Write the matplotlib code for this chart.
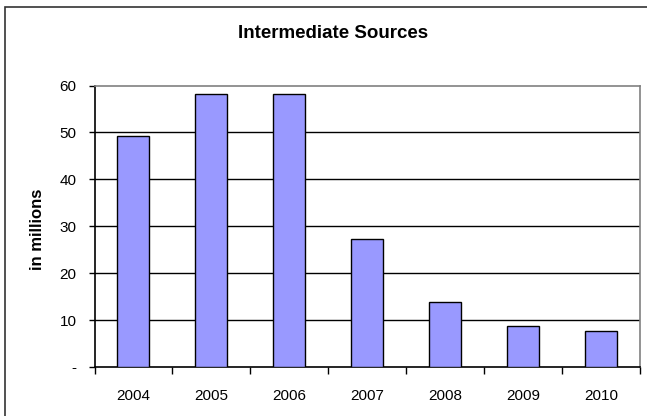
import matplotlib.pyplot as plt
import matplotlib.patches as mpatches
import numpy as np

plt.rcParams['font.family'] = ['Liberation Sans', 'DejaVu Sans']

years = ['2004', '2005', '2006', '2007', '2008', '2009', '2010']
values = [49.3, 58.2, 58.2, 27.3, 13.8, 8.8, 7.6]
yticks = [0, 10, 20, 30, 40, 50, 60]
ytick_labels = ['-', '10', '20', '30', '40', '50', '60']

fig = plt.figure(figsize=(6.47, 4.16), dpi=100)

# outer chart border (only left and top visible in the crop)
fig.patches.append(mpatches.Rectangle((5 / 647, -0.1), 1.2, 1 - 7 / 416 + 0.1,
                                      transform=fig.transFigure, fill=False,
                                      edgecolor='#333333', linewidth=1.2))

ax = fig.add_axes([94.5 / 647, 1 - 367 / 416, (640 - 94.5) / 647, (367 - 85.5) / 416])

x = np.arange(len(years))
ax.bar(x, values, width=0.41, color='#9999FF', edgecolor='black', linewidth=1.0, zorder=3)

ax.set_xlim(-0.5, len(years) - 0.5)
ax.set_ylim(0, 60)

# gridlines
for v in yticks[1:-1]:
    ax.axhline(v, color='black', linewidth=1.0, zorder=1)

ax.set_yticks(yticks)
ax.set_yticklabels(ytick_labels, fontsize=11)
ax.set_xticks(x)
ax.set_xticklabels(years, fontsize=11)
ax.tick_params(axis='x', length=0, pad=16)
ax.set_xticks(np.arange(len(years) + 1) - 0.5, minor=True)
ax.tick_params(axis='x', which='minor', length=5, width=1, color='black', direction='out')
ax.tick_params(axis='y', length=4, width=1, direction='out', pad=9)

ax.spines['left'].set_color('black')
ax.spines['bottom'].set_color('black')
ax.spines['top'].set_color('#808080')
ax.spines['right'].set_color('#808080')
for s in ax.spines.values():
    s.set_linewidth(1.2)

ax.set_ylabel('in millions', fontsize=12, fontweight='bold')
ax.yaxis.set_label_coords(-50 / 545.5, 0.49)

fig.text(333 / 647, 1 - 33 / 416, 'Intermediate Sources', ha='center', va='center',
         fontsize=13.5, fontweight='bold')

fig.savefig('out.png', dpi=100)
